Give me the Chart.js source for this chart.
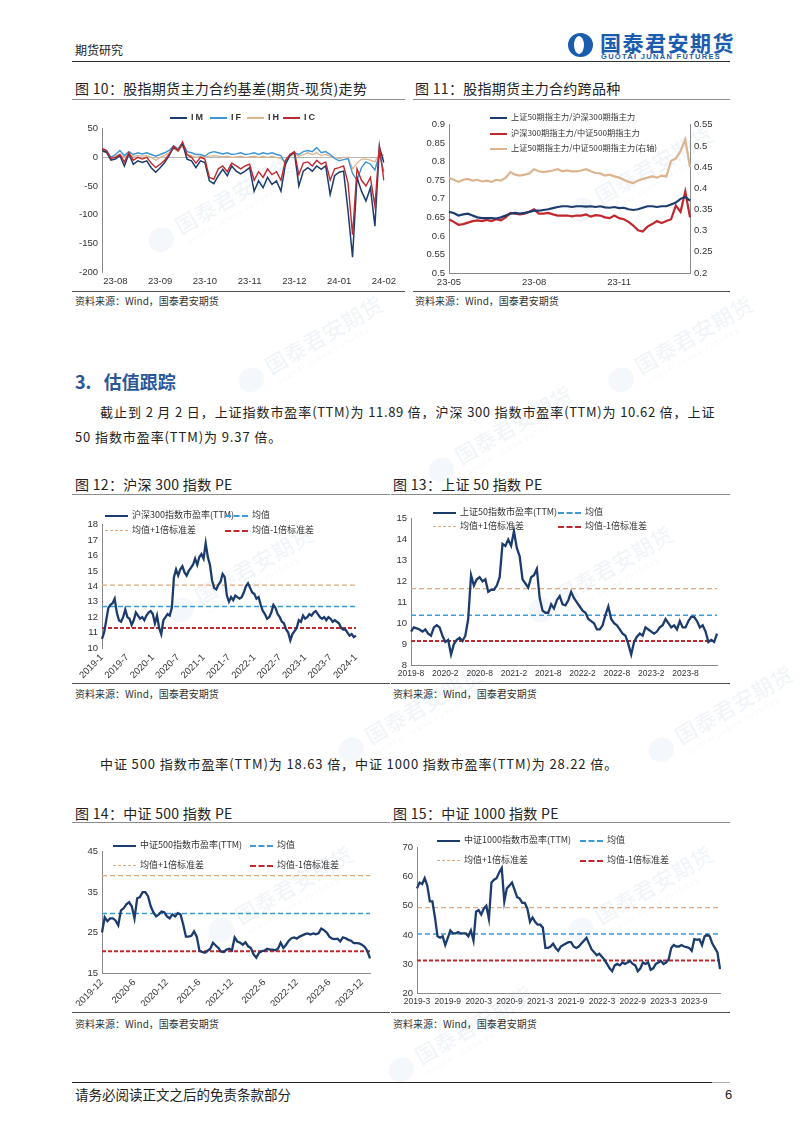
<!DOCTYPE html>
<html>
<head>
<meta charset="utf-8">
<script src="https://cdn.jsdelivr.net/npm/chart.js@4.4.1/dist/chart.umd.min.js"></script>
<style>
body { margin: 0; background: #fff; }
#page { position: relative; width: 802px; height: 1134px; overflow: hidden; background: #fff;
  font-family: "Noto Sans CJK SC", "Noto Sans", sans-serif; color: #222; }
.t { position: absolute; white-space: nowrap; line-height: 1; }
.rule { position: absolute; height: 0; }
.ftitle { font-size: 14px; color: #222; letter-spacing: 0.3px; }
.src { font-size: 10px; color: #333; }
.para { font-size: 13px; letter-spacing: 0.9px; color: #222; }
.box { position: absolute; }
.leg { position: absolute; white-space: nowrap; font-size: 9px; line-height: 12px; color: #333; }
.leg i { display: inline-block; width: 23px; height: 0; margin-right: 4px; vertical-align: middle; }
.wm { position: absolute; transform: rotate(-30deg); color: rgba(40, 95, 180, 0.06); white-space: nowrap;
  font-weight: bold; font-size: 22px; line-height: 1; }
.wm small { display: block; font-size: 7px; letter-spacing: 1px; margin-left: 34px; }
.wm b { display: inline-block; width: 26px; height: 24px; border-radius: 50%; background: rgba(40, 95, 180, 0.05);
  vertical-align: middle; margin-right: 6px; }
</style>
</head>
<body>
<div id="page">

  <!-- header -->
  <div class="t" style="left:75px;top:44px;font-size:12px;">期货研究</div>
  <div style="position:absolute;left:568px;top:33px;width:25px;height:24px;border-radius:50%;background:#1a5cad;"></div>
  <div style="position:absolute;left:574px;top:36px;width:10px;height:18px;border-radius:50%;background:#fff;"></div>
  <div class="t" style="left:600px;top:32px;font-size:21px;font-weight:bold;color:#1a5cad;letter-spacing:1.5px;">国泰君安期货</div>
  <div class="t" style="left:601px;top:53px;font-size:7.5px;font-weight:bold;color:#1a5cad;letter-spacing:1.3px;font-family:'Liberation Sans',sans-serif;">GUOTAI JUNAN FUTURES</div>
  <div class="rule" style="left:72px;top:61px;width:658px;border-top:1.5px solid #333;"></div>

  <!-- watermarks -->
  <div class="wm" style="left:140px;top:190px;"><b></b>国泰君安期货<small>GUOTAI JUNAN FUTURES</small></div>
  <div class="wm" style="left:560px;top:160px;"><b></b>国泰君安期货<small>GUOTAI JUNAN FUTURES</small></div>
  <div class="wm" style="left:230px;top:330px;"><b></b>国泰君安期货<small>GUOTAI JUNAN FUTURES</small></div>
  <div class="wm" style="left:600px;top:330px;"><b></b>国泰君安期货<small>GUOTAI JUNAN FUTURES</small></div>
  <div class="wm" style="left:420px;top:420px;"><b></b>国泰君安期货<small>GUOTAI JUNAN FUTURES</small></div>
  <div class="wm" style="left:160px;top:560px;"><b></b>国泰君安期货<small>GUOTAI JUNAN FUTURES</small></div>
  <div class="wm" style="left:520px;top:560px;"><b></b>国泰君安期货<small>GUOTAI JUNAN FUTURES</small></div>
  <div class="wm" style="left:330px;top:700px;"><b></b>国泰君安期货<small>GUOTAI JUNAN FUTURES</small></div>
  <div class="wm" style="left:640px;top:700px;"><b></b>国泰君安期货<small>GUOTAI JUNAN FUTURES</small></div>
  <div class="wm" style="left:200px;top:880px;"><b></b>国泰君安期货<small>GUOTAI JUNAN FUTURES</small></div>
  <div class="wm" style="left:560px;top:880px;"><b></b>国泰君安期货<small>GUOTAI JUNAN FUTURES</small></div>
  <div class="wm" style="left:380px;top:1020px;"><b></b>国泰君安期货<small>GUOTAI JUNAN FUTURES</small></div>

  <!-- figure 10 / 11 -->
  <div class="t ftitle" style="left:75px;top:81px;">图 10：股指期货主力合约基差(期货-现货)走势</div>
  <div class="rule" style="left:72px;top:99px;width:333px;border-top:1.5px solid #8c8c8c;"></div>
  <div class="t ftitle" style="left:415px;top:81px;">图 11：股指期货主力合约跨品种</div>
  <div class="rule" style="left:413px;top:99px;width:317px;border-top:1.5px solid #8c8c8c;"></div>

  <div class="box" style="left:72px;top:119px;width:328px;height:171px;"><canvas id="c10"></canvas></div>
  <div class="box" style="left:413px;top:115px;width:305px;height:175px;"><canvas id="c11"></canvas></div>

  <div class="leg" style="left:170px;top:111px;font-family:'Liberation Sans',sans-serif;font-weight:bold;letter-spacing:2px;">
    <i style="width:17px;border-top:2px solid #1b3c6c;"></i>IM</div>
  <div class="leg" style="left:210px;top:111px;font-family:'Liberation Sans',sans-serif;font-weight:bold;letter-spacing:2px;">
    <i style="width:17px;border-top:2px solid #3b95d6;"></i>IF</div>
  <div class="leg" style="left:247px;top:111px;font-family:'Liberation Sans',sans-serif;font-weight:bold;letter-spacing:2px;">
    <i style="width:17px;border-top:2px solid #dcb48f;"></i>IH</div>
  <div class="leg" style="left:283px;top:111px;font-family:'Liberation Sans',sans-serif;font-weight:bold;letter-spacing:2px;">
    <i style="width:17px;border-top:2px solid #c0282e;"></i>IC</div>

  <div class="leg" style="left:490px;top:110px;font-size:8.2px;"><i style="width:17px;border-top:2.5px solid #1b3c6c;"></i>上证50期指主力/沪深300期指主力</div>
  <div class="leg" style="left:490px;top:126px;font-size:8.2px;"><i style="width:17px;border-top:2.5px solid #c0282e;"></i>沪深300期指主力/中证500期指主力</div>
  <div class="leg" style="left:490px;top:141px;font-size:8.2px;"><i style="width:17px;border-top:2.5px solid #dcb48f;"></i>上证50期指主力/中证500期指主力(右轴)</div>

  <div class="rule" style="left:72px;top:291px;width:333px;border-top:1.5px solid #555;"></div>
  <div class="t src" style="left:75px;top:296px;">资料来源：Wind，国泰君安期货</div>
  <div class="rule" style="left:413px;top:291px;width:317px;border-top:1.5px solid #555;"></div>
  <div class="t src" style="left:415px;top:296px;">资料来源：Wind，国泰君安期货</div>

  <!-- section 3 -->
  <div class="t" style="left:75px;top:372px;font-size:18px;font-weight:bold;color:#2b5797;">3.&nbsp;&nbsp;&nbsp;估值跟踪</div>
  <div class="t para" style="left:100px;top:405px;width:615px;text-align:justify;text-align-last:justify;letter-spacing:0.6px;">截止到 2 月 2 日，上证指数市盈率(TTM)为 11.89 倍，沪深 300 指数市盈率(TTM)为 10.62 倍，上证</div>
  <div class="t para" style="left:75px;top:430px;">50 指数市盈率(TTM)为 9.37 倍。</div>

  <!-- figure 12 / 13 -->
  <div class="t ftitle" style="left:75px;top:477px;">图 12：沪深 300 指数 PE</div>
  <div class="rule" style="left:72px;top:494px;width:318px;border-top:1.5px solid #8c8c8c;"></div>
  <div class="t ftitle" style="left:393px;top:477px;">图 13：上证 50 指数 PE</div>
  <div class="rule" style="left:391px;top:494px;width:339px;border-top:1.5px solid #8c8c8c;"></div>

  <div class="box" style="left:64px;top:515px;width:304px;height:166px;"><canvas id="c12"></canvas></div>
  <div class="box" style="left:389px;top:509px;width:331px;height:170px;"><canvas id="c13"></canvas></div>

  <div class="leg" style="left:105px;top:509px;"><i style="border-top:2.5px solid #1b3c6c;"></i>沪深300指数市盈率(TTM)</div>
  <div class="leg" style="left:225px;top:509px;"><i style="border-top:2px dashed #3b9bd6;"></i>均值</div>
  <div class="leg" style="left:105px;top:524px;"><i style="border-top:1.5px dashed #e2a97c;"></i>均值+1倍标准差</div>
  <div class="leg" style="left:225px;top:524px;"><i style="border-top:2px dashed #c0282e;"></i>均值-1倍标准差</div>

  <div class="leg" style="left:433px;top:506px;"><i style="border-top:2.5px solid #1b3c6c;"></i>上证50指数市盈率(TTM)</div>
  <div class="leg" style="left:558px;top:506px;"><i style="border-top:2px dashed #3b9bd6;"></i>均值</div>
  <div class="leg" style="left:433px;top:520px;"><i style="border-top:1.5px dashed #e2a97c;"></i>均值+1倍标准差</div>
  <div class="leg" style="left:558px;top:520px;"><i style="border-top:2px dashed #c0282e;"></i>均值-1倍标准差</div>

  <div class="rule" style="left:72px;top:683px;width:318px;border-top:1.5px solid #555;"></div>
  <div class="t src" style="left:75px;top:689px;">资料来源：Wind，国泰君安期货</div>
  <div class="rule" style="left:391px;top:683px;width:339px;border-top:1.5px solid #555;"></div>
  <div class="t src" style="left:393px;top:689px;">资料来源：Wind，国泰君安期货</div>

  <div class="t para" style="left:100px;top:757px;">中证 500 指数市盈率(TTM)为 18.63 倍，中证 1000 指数市盈率(TTM)为 28.22 倍。</div>

  <!-- figure 14 / 15 -->
  <div class="t ftitle" style="left:75px;top:806px;">图 14：中证 500 指数 PE</div>
  <div class="rule" style="left:72px;top:822px;width:318px;border-top:1.5px solid #8c8c8c;"></div>
  <div class="t ftitle" style="left:393px;top:806px;">图 15：中证 1000 指数 PE</div>
  <div class="rule" style="left:391px;top:822px;width:339px;border-top:1.5px solid #8c8c8c;"></div>

  <div class="box" style="left:64px;top:842px;width:316px;height:164px;"><canvas id="c14"></canvas></div>
  <div class="box" style="left:393px;top:838px;width:332px;height:169px;"><canvas id="c15"></canvas></div>

  <div class="leg" style="left:113px;top:839px;"><i style="border-top:2.5px solid #1b3c6c;"></i>中证500指数市盈率(TTM)</div>
  <div class="leg" style="left:250px;top:839px;"><i style="border-top:2px dashed #3b9bd6;"></i>均值</div>
  <div class="leg" style="left:113px;top:859px;"><i style="border-top:1.5px dashed #e2a97c;"></i>均值+1倍标准差</div>
  <div class="leg" style="left:250px;top:859px;"><i style="border-top:2px dashed #c0282e;"></i>均值-1倍标准差</div>

  <div class="leg" style="left:437px;top:834px;"><i style="border-top:2.5px solid #1b3c6c;"></i>中证1000指数市盈率(TTM)</div>
  <div class="leg" style="left:580px;top:834px;"><i style="border-top:2px dashed #3b9bd6;"></i>均值</div>
  <div class="leg" style="left:437px;top:854px;"><i style="border-top:1.5px dashed #e2a97c;"></i>均值+1倍标准差</div>
  <div class="leg" style="left:580px;top:854px;"><i style="border-top:2px dashed #c0282e;"></i>均值-1倍标准差</div>

  <div class="rule" style="left:72px;top:1012px;width:318px;border-top:1.5px solid #555;"></div>
  <div class="t src" style="left:75px;top:1019px;">资料来源：Wind，国泰君安期货</div>
  <div class="rule" style="left:391px;top:1012px;width:339px;border-top:1.5px solid #555;"></div>
  <div class="t src" style="left:393px;top:1019px;">资料来源：Wind，国泰君安期货</div>

  <!-- footer -->
  <div class="rule" style="left:72px;top:1082px;width:640px;border-top:1.5px solid #222;"></div>
  <div class="rule" style="left:712px;top:1082px;width:18px;border-top:1.5px solid #aaa;"></div>
  <div class="t" style="left:75px;top:1088px;font-size:13.5px;">请务必阅读正文之后的免责条款部分</div>
  <div class="t" style="left:725px;top:1088px;font-size:13px;font-family:'Liberation Sans',sans-serif;">6</div>
</div>

<script>
// 图10 基差：23-07下旬 ~ 24-02-02，约每两个交易日一个点
const basisTicks = ['23-08', '23-09', '23-10', '23-11', '23-12', '24-01', '24-02'];
const basisTickFirst = 3, basisTickStep = 10;
const basisIM = [12, 9, -5,
  -3, 3, -15, 6, -12, -6, -9, -6, -18, -26,
  -18, -9, 3, 18, 12, 24, -3, -6, -18, -6,
  -9, -41, -46, -32, -21, -32, -15, -24, -29, -24,
  -18, -59, -41, -53, -35, -47, -41, -59, -12, 3,
  9, -50, -24, -18, -24, -15, -21, -15, -65, -32,
  -26, -24, -94, -174, -35, -59, -76, -53, -120, 18,
  -9];
const basisIF = [15, 12, 0,
  5, 12, 3, 10, 5, 8, 6, 8, 5, 2,
  5, 8, 12, 20, 15, 25, 10, 8, 5, 5,
  2, 8, 10, 8, 6, 8, 5, 6, 8, 5,
  6, 8, 5, 8, 6, 8, 5, 3, -12, 5,
  8, 5, 10, 12, 10, 17, 8, 10, 5, -2,
  -6, -4, -2, -28, -40, -18, -8, -12, -22, 5,
  -25];
const basisIH = [10, 8, 0,
  2, 5, 0, 5, 2, 3, 2, 3, 0, -5,
  0, 3, 8, 15, 10, 20, 5, 3, 0, 2,
  0, 2, 3, 2, 1, 2, 0, 1, 2, 0,
  1, 2, 0, 2, 0, 2, 0, -2, -8, 2,
  5, 2, 5, 8, 5, 8, 3, 5, 2, 0,
  -2, 0, 0, -20, -10, -3, -3, -5, -8, 8,
  3];
const basisIC = [15, 12, -2,
  0, 5, -8, 8, -5, 0, -3, 0, -10, -18,
  -12, -5, 5, 20, 12, 27, 5, 0, -10, 0,
  -3, -35, -38, -20, -15, -25, -10, -15, -20, -15,
  -12, -40, -25, -35, -20, -30, -25, -40, -5, 5,
  10, -30, -10, -8, -15, -5, -12, -8, -40, -20,
  -18, -15, -45, -135, -20, -40, -50, -35, -85, 20,
  -40];

// 图11 跨品种比值：23-05 ~ 24-01
const crossTicks = ['23-05', '23-08', '23-11'];
const crossTickFirst = 0, crossTickStep = 18;
const ratio50to300 = [0.665, 0.662, 0.655, 0.658, 0.66, 0.655, 0.65, 0.648, 0.648, 0.648,
  0.647, 0.65, 0.655, 0.66, 0.662, 0.66, 0.662, 0.665, 0.668, 0.668,
  0.67, 0.672, 0.675, 0.678, 0.68, 0.68, 0.678, 0.68, 0.68, 0.679,
  0.68, 0.678, 0.68, 0.677, 0.676, 0.678, 0.675, 0.676, 0.672, 0.67,
  0.672, 0.676, 0.68, 0.68, 0.678, 0.68, 0.68, 0.685, 0.69, 0.7,
  0.705, 0.695];
const ratio300to500 = [0.645, 0.638, 0.63, 0.632, 0.636, 0.64, 0.642, 0.64, 0.643, 0.64,
  0.645, 0.642, 0.65, 0.662, 0.66, 0.658, 0.66, 0.665, 0.672, 0.66,
  0.66, 0.662, 0.658, 0.655, 0.655, 0.655, 0.653, 0.655, 0.655, 0.658,
  0.652, 0.656, 0.655, 0.65, 0.648, 0.655, 0.648, 0.645, 0.638, 0.628,
  0.615, 0.612, 0.625, 0.632, 0.64, 0.635, 0.64, 0.645, 0.682, 0.665,
  0.72, 0.65];
const ratio50to500 = [0.425, 0.42, 0.415, 0.42, 0.422, 0.418, 0.42, 0.416, 0.418, 0.415,
  0.42, 0.418, 0.425, 0.438, 0.432, 0.43, 0.432, 0.435, 0.445, 0.44,
  0.438, 0.44, 0.442, 0.445, 0.44, 0.442, 0.44, 0.44, 0.442, 0.445,
  0.44, 0.436, 0.435, 0.43, 0.432, 0.428, 0.425, 0.42, 0.415, 0.412,
  0.418, 0.422, 0.425, 0.428, 0.425, 0.43, 0.428, 0.465, 0.47, 0.488,
  0.515, 0.45];

// 图12 沪深300 PE，半月一点
const pe300Ticks = ['2019-1', '2019-7', '2020-1', '2020-7', '2021-1', '2021-7', '2022-1', '2022-7', '2023-1', '2023-7', '2024-1'];
const pe300 = [10.6, 11.0, 11.8, 12.6, 12.8, 12.9, 13.2, 12.3, 11.8, 11.7,
  12.0, 12.5, 12.0, 11.9, 11.5, 11.8, 12.3, 12.1, 11.9, 12.0,
  11.8, 12.1, 12.3, 12.4, 12.2, 11.6, 12.1, 11.3, 10.9, 11.8,
  12.0, 12.2, 12.1, 12.6, 14.6, 15.1, 14.7, 15.1, 15.3, 14.9,
  14.7, 15.0, 15.2, 15.4, 15.8, 15.4, 15.9, 16.1, 15.8, 16.8,
  15.9, 15.4, 14.4, 13.9, 13.8, 14.1, 14.3, 14.8, 14.6, 13.4,
  13.0, 13.3, 13.1, 13.4, 13.3, 13.2, 13.3, 13.6, 14.0, 14.2,
  13.9, 13.6, 13.5, 13.2, 13.3, 12.8, 12.4, 12.2, 11.9, 12.0,
  12.3, 12.8, 12.6, 12.2, 12.0, 11.7, 11.6, 11.2, 11.0, 10.5,
  10.9, 11.1, 11.3, 11.8, 11.7, 12.1, 11.9, 12.0, 12.2, 12.1,
  12.3, 12.4, 12.2, 12.0, 11.9, 12.0, 11.8, 12.0, 11.9, 11.7,
  11.8, 11.7, 11.6, 11.3, 11.2, 11.2, 11.0, 10.8, 10.9, 10.7,
  10.8];
const pe300Bands = [12.69, 14.08, 11.3]; // 均值, +1σ, -1σ

// 图13 上证50 PE
const pe50Ticks = ['2019-8', '2020-2', '2020-8', '2021-2', '2021-8', '2022-2', '2022-8', '2023-2', '2023-8'];
const pe50 = [9.6, 9.8, 9.75, 9.7, 9.6, 9.7, 9.5, 9.4, 9.8, 9.9,
  9.8, 9.4, 9.1, 9.2, 8.5, 9.0, 9.2, 9.3, 9.15, 9.4,
  10.2, 12.3, 11.8, 12.1, 12.2, 12.0, 12.1, 11.5, 11.6, 11.6,
  11.8, 12.2, 13.8, 13.7, 14.0, 13.7, 14.4, 13.6, 13.2, 12.1,
  11.9, 11.7, 12.2, 12.3, 12.6, 11.2, 10.6, 10.5, 10.5, 10.9,
  10.7, 11.1, 11.3, 10.9, 10.85, 11.1, 11.5, 11.2, 11.0, 10.8,
  10.6, 10.5, 10.2, 10.1, 10.0, 9.7, 9.7, 9.9, 10.4, 10.8,
  10.2, 10.0, 9.9, 9.7, 9.5, 9.4, 9.0, 8.5, 9.1, 9.35,
  9.5, 9.4, 9.8, 9.7, 9.6, 9.5, 9.6, 9.8, 9.9, 10.2,
  10.0, 9.8, 9.9, 9.7, 10.1, 9.8, 9.8, 10.1, 10.3, 10.3,
  10.1, 9.8, 9.9, 9.6, 9.1, 9.2, 9.1, 9.5];
const pe50Bands = [10.38, 11.65, 9.15];

// 图14 中证500 PE
const pe500Ticks = ['2019-12', '2020-6', '2020-12', '2021-6', '2021-12', '2022-6', '2022-12', '2023-6', '2023-12'];
const pe500 = [25.0, 28.8, 27.8, 28.5, 28.5, 28.0, 26.8, 30.5, 31.0, 32.0,
  32.5, 31.5, 28.5, 33.5, 33.8, 35.0, 35.0, 34.0, 31.5, 30.0,
  29.0, 29.5, 30.2, 30.0, 29.0, 28.5, 29.5, 29.0, 29.8, 29.5,
  27.0, 24.0, 24.0, 24.2, 25.3, 24.0, 20.5, 20.2, 20.0, 20.5,
  21.0, 22.5, 21.8, 21.2, 20.3, 20.2, 20.8, 21.0, 20.6, 23.8,
  22.8, 22.5, 22.0, 22.6, 21.6, 21.2, 19.6, 18.8, 20.0, 20.4,
  20.5, 21.0, 20.8, 20.8, 20.6, 21.0, 22.5, 21.2, 22.0, 23.0,
  23.6, 23.8, 23.5, 24.0, 24.3, 24.6, 24.8, 24.5, 24.8, 24.6,
  24.8, 26.0, 25.6, 25.0, 24.0, 23.5, 23.4, 23.5, 22.8, 23.8,
  23.6, 23.2, 23.0, 22.4, 22.4, 22.3, 22.0, 21.5, 20.5, 18.6];
const pe500Bands = [29.7, 39.1, 20.4];

// 图15 中证1000 PE
const pe1000Ticks = ['2019-3', '2019-9', '2020-3', '2020-9', '2021-3', '2021-9', '2022-3', '2022-9', '2023-3', '2023-9'];
const pe1000 = [56.0, 58.0, 57.5, 59.5, 57.0, 51.5, 51.5, 46.0, 39.5, 39.0,
  39.5, 36.5, 39.0, 41.5, 40.5, 40.5, 41.0, 40.5, 40.5, 40.5,
  39.5, 41.5, 38.0, 48.0, 48.5, 47.0, 49.0, 50.0, 45.5, 58.0,
  59.0, 59.5, 61.5, 63.0, 51.5, 56.0, 57.0, 58.0, 55.5, 53.0,
  52.5, 51.0, 51.0, 49.0, 44.5, 46.0, 44.5, 43.5, 43.5, 42.5,
  35.5, 35.5, 36.0, 37.0, 35.5, 34.5, 36.0, 36.5, 37.0, 37.5,
  37.5, 36.0, 35.5, 36.0, 37.0, 38.0, 39.0, 37.0, 35.0, 34.0,
  33.0, 33.5, 32.5, 31.5, 30.0, 28.5, 27.5, 29.5, 30.0, 29.5,
  30.5, 30.0, 30.5, 31.0, 30.0, 29.5, 27.5, 28.5, 30.5, 30.0,
  30.5, 28.0, 28.5, 30.0, 30.5, 31.0, 30.0, 30.5, 31.5, 35.5,
  36.5, 36.0, 36.0, 36.5, 36.0, 35.8, 35.5, 34.5, 38.5, 38.3,
  38.5, 36.5, 39.5, 40.0, 39.5, 37.0, 35.5, 34.0, 28.2];
const pe1000Bands = [40.3, 49.4, 31.2];

const NAVY = '#1b3c6c', SKY = '#3b9bd6', TAN = '#e2a97c', RED = '#c0282e';
const tickFont = { family: 'Liberation Sans, Arial, sans-serif', size: 9.5 };

Chart.defaults.animation = false;
Chart.defaults.responsive = true;
Chart.defaults.maintainAspectRatio = false;
Chart.defaults.plugins.legend.display = false;
Chart.defaults.plugins.tooltip.enabled = false;
Chart.defaults.elements.point.radius = 0;
Chart.defaults.elements.line.tension = 0;

// 只在指定位置显示月份标签
function makeLabels(n, ticks, first, step) {
  const out = [];
  for (let i = 0; i < n; i++) {
    const k = (i - first) / step;
    out.push(i >= first && Number.isInteger(k) && k < ticks.length ? ticks[k] : '');
  }
  return out;
}

function xScale(rot, h, fontSize, showLine) {
  return {
    type: 'category', offset: false,
    grid: { display: false, drawTicks: false },
    border: { display: showLine !== false, color: '#8a8a8a' },
    ticks: {
      autoSkip: false, maxRotation: rot, minRotation: rot, padding: 4, color: '#333',
      font: Object.assign({}, tickFont, { size: fontSize || tickFont.size }),
      callback(v) { const l = this.getLabelForValue(v); return l === '' ? null : l; }
    },
    afterFit(s) { s.height = h; }
  };
}

function yScale(min, max, step, w, extra) {
  return Object.assign({
    min, max,
    grid: { display: false, drawTicks: false },
    border: { display: true, color: '#8a8a8a' },
    ticks: { stepSize: step, font: tickFont, color: '#333', padding: 4 },
    afterFit(s) { s.width = w; }
  }, extra || {});
}

// 图10
const basisLabels = makeLabels(basisIM.length, basisTicks, basisTickFirst, basisTickStep);
new Chart(document.getElementById('c10'), {
  type: 'line',
  data: {
    labels: basisLabels,
    datasets: [
      { data: basisIC, borderColor: RED, borderWidth: 1.4 },
      { data: basisIM, borderColor: NAVY, borderWidth: 1.5 },
      { data: basisIF, borderColor: '#3b95d6', borderWidth: 1.4 },
      { data: basisIH, borderColor: '#dcb48f', borderWidth: 1.3 }
    ]
  },
  options: {
    layout: { padding: { right: 15 } },
    scales: {
      x: xScale(0, 18, null, false),
      y: yScale(-200, 50, 50, 30, {
        grid: { drawTicks: false, color: c => c.tick.value === 0 ? '#b5b5b5' : 'rgba(0,0,0,0)' }
      })
    }
  }
});

// 图11
const crossLabels = makeLabels(ratio50to300.length, crossTicks, crossTickFirst, crossTickStep);
const ratioFmt = v => String(+v.toFixed(2));
const ratioTicks = { stepSize: 0.05, font: tickFont, color: '#333', padding: 4, callback: ratioFmt };
new Chart(document.getElementById('c11'), {
  type: 'line',
  data: {
    labels: crossLabels,
    datasets: [
      { data: ratio50to300, borderColor: NAVY, borderWidth: 2.2, yAxisID: 'y' },
      { data: ratio300to500, borderColor: RED, borderWidth: 2.2, yAxisID: 'y' },
      { data: ratio50to500, borderColor: '#dcb48f', borderWidth: 2.2, yAxisID: 'y1' }
    ]
  },
  options: {
    scales: {
      x: xScale(0, 17),
      y: yScale(0.5, 0.9, 0.05, 36, { ticks: ratioTicks }),
      y1: yScale(0.2, 0.55, 0.05, 28, { position: 'right', ticks: ratioTicks })
    }
  }
});

function peChart(id, values, ticks, bands, ymin, ymax, ystep, yw, rot, xh, padRight, xFont, xLine) {
  const labels = makeLabels(values.length, ticks, 0, 12);
  const flat = v => values.map(() => v);
  new Chart(document.getElementById(id), {
    type: 'line',
    data: {
      labels,
      datasets: [
        { data: values, borderColor: NAVY, borderWidth: 2.3 },
        { data: flat(bands[0]), borderColor: SKY, borderWidth: 1.5, borderDash: [5, 3] },
        { data: flat(bands[1]), borderColor: TAN, borderWidth: 1.2, borderDash: [5, 3] },
        { data: flat(bands[2]), borderColor: RED, borderWidth: 2, borderDash: [4, 2] }
      ]
    },
    options: {
      layout: { padding: { right: padRight } },
      scales: {
        x: xScale(rot, xh, xFont, xLine),
        y: yScale(ymin, ymax, ystep, yw)
      }
    }
  });
}

peChart('c12', pe300, pe300Ticks, pe300Bands, 10, 18, 1, 38, 45, 33, 8, null, false);
peChart('c13', pe50, pe50Ticks, pe50Bands, 8, 15, 1, 22, 0, 14, 3, 8.5);
peChart('c14', pe500, pe500Ticks, pe500Bands, 15, 45, 10, 38, 45, 33, 10);
peChart('c15', pe1000, pe1000Ticks, pe1000Bands, 20, 70, 10, 24, 0, 14, 5, 8.5);
</script>
</body>
</html>
